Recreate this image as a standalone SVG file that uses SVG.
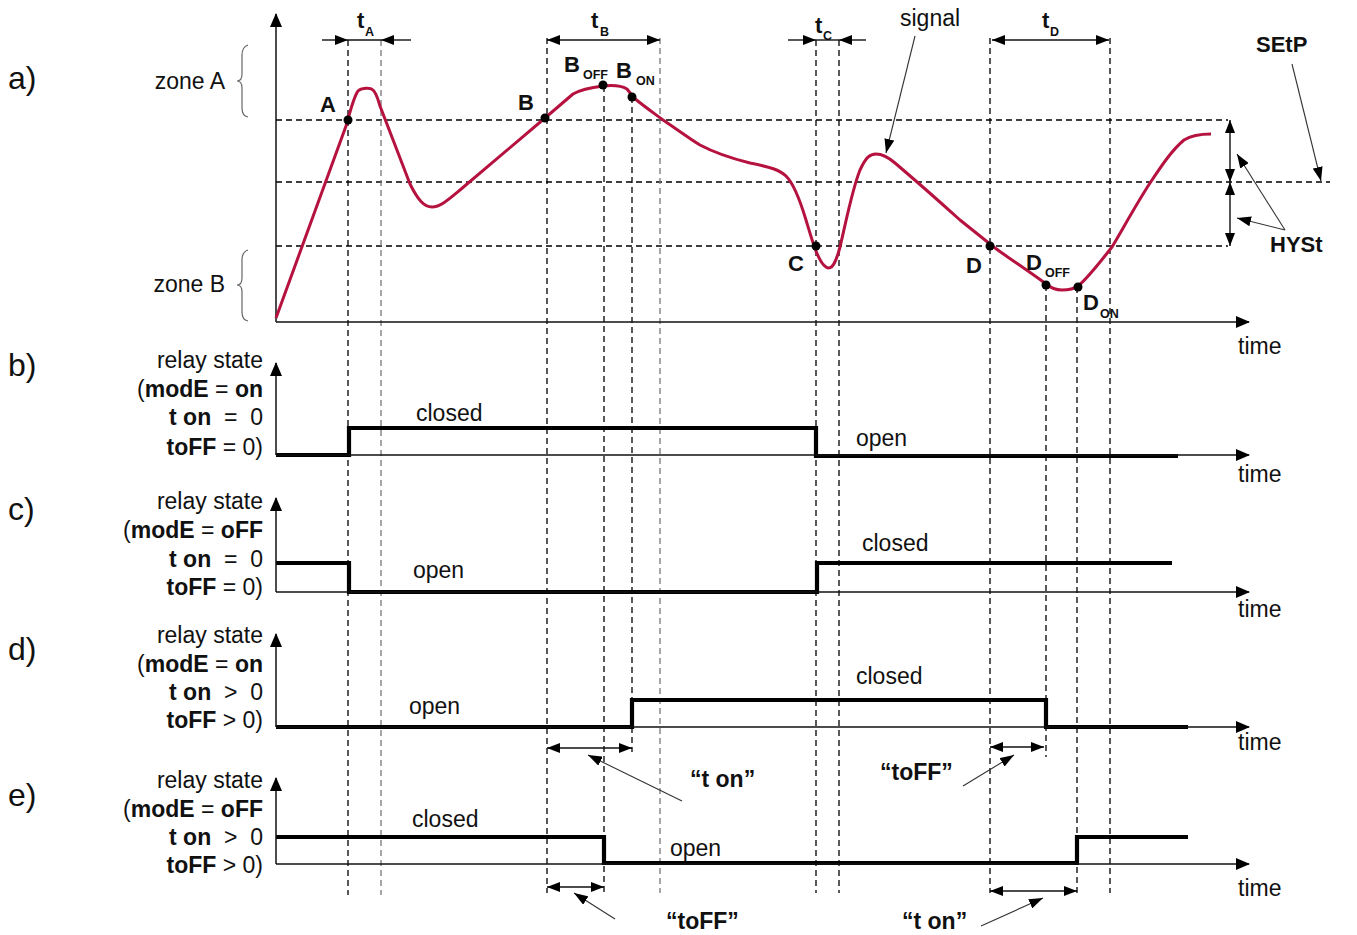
<svg xmlns="http://www.w3.org/2000/svg" width="1357" height="935" viewBox="0 0 1357 935">
<style>
text{font-family:"Liberation Sans",Arial,sans-serif;fill:#111}
.r{font-size:23px}
.b{font-weight:bold}
.lab{font-size:22px;font-weight:bold}
.q{font-size:23px;font-weight:bold}
.sub{font-size:12.5px;font-weight:bold}
.big{font-size:32px}
.dash{stroke:#000;stroke-width:1.3;stroke-dasharray:6 4;fill:none}
.dg{stroke:#777;stroke-width:1.3;stroke-dasharray:6 4;fill:none}
.ax{stroke:#111;stroke-width:1.5;fill:none}
.sig{stroke:#000;stroke-width:4.2;fill:none;stroke-linejoin:miter}
.ptr{stroke:#333;stroke-width:1.1;fill:none}
.thin{stroke:#111;stroke-width:1.4;fill:none}
.brace{stroke:#666;stroke-width:1.2;fill:none}
.dot{fill:#000}
</style>
<defs>
<marker id="ah" viewBox="0 0 14 12" refX="13" refY="6" markerWidth="14" markerHeight="12" markerUnits="userSpaceOnUse" orient="auto-start-reverse"><path d="M0,0 L14,6 L0,12 z" fill="#000"/></marker>
<marker id="am" viewBox="0 0 13 10" refX="13" refY="5" markerWidth="13" markerHeight="10" markerUnits="userSpaceOnUse" orient="auto-start-reverse"><path d="M0,0 L13,5 L0,10 z" fill="#000"/></marker>
<marker id="ap" viewBox="0 0 14 10" refX="14" refY="5" markerWidth="14" markerHeight="10" markerUnits="userSpaceOnUse" orient="auto-start-reverse"><path d="M0,0 L14,5 L0,10 z" fill="#000"/></marker>
</defs>
<rect width="1357" height="935" fill="#fff"/>

<g id="guides">
<line class="dash" x1="276" y1="120" x2="1228" y2="120"/>
<line class="dash" x1="276" y1="182" x2="1330" y2="182"/>
<line class="dash" x1="276" y1="246" x2="1228" y2="246"/>
<line class="dash" x1="348" y1="40" x2="348" y2="895"/>
<line class="dg" x1="381" y1="40" x2="381" y2="895"/>
<line class="dash" x1="547" y1="38" x2="547" y2="893"/>
<line class="dash" x1="604" y1="86" x2="604" y2="893"/>
<line class="dash" x1="632" y1="97" x2="632" y2="752"/>
<line class="dg" x1="660" y1="38" x2="660" y2="893"/>
<line class="dash" x1="816" y1="40" x2="816" y2="893"/>
<line class="dash" x1="839" y1="40" x2="839" y2="893"/>
<line class="dash" x1="990" y1="38" x2="990" y2="893"/>
<line class="dash" x1="1046" y1="285" x2="1046" y2="757"/>
<line class="dash" x1="1077" y1="287" x2="1077" y2="893"/>
<line class="dash" x1="1110" y1="38" x2="1110" y2="893"/>
</g>

<g id="panel-a">
<text class="big" x="8" y="89">a)</text>
<text class="r" x="225" y="89" text-anchor="end">zone A</text>
<text class="r" x="225" y="292" text-anchor="end">zone B</text>
<path class="brace" d="M248,45 Q242,47 242,55 L242,74 Q242,81 237,81 Q242,81 242,88 L242,108 Q242,116 248,117"/>
<path class="brace" d="M248,250 Q242,252 242,260 L242,278 Q242,285 237,285 Q242,285 242,292 L242,312 Q242,320 248,321"/>
<line class="ax" x1="276" y1="322" x2="276" y2="14" marker-end="url(#ah)"/>
<line class="ax" x1="276" y1="322" x2="1249" y2="322" marker-end="url(#ah)"/>
<text class="r" x="1238" y="354">time</text>
<path d="M276,318 L346,126 C350,112 354,96 358,91 C361,88 370,87 373,90 C377,94 378,100 380,106 L410,184 C418,200 424,207 432,207 C440,207 448,200 460,190 L545,118 L573,94 C580,90 595,87 603,86 C612,85 622,86 627,89 L634,98 C645,107 655,114 663,120 C678,130 690,139 700,145 C715,153 730,158 750,163 C770,167 780,170 786,176 C794,184 800,200 806,220 C812,240 818,262 826,267 C832,271 836,262 840,247 C846,222 852,190 860,170 C866,157 870,154 876,154 C882,154 888,157 895,163 C915,180 940,202 960,220 C975,232 985,240 995,248 C1010,259 1030,272 1046,284 C1052,289 1056,290 1062,290 C1070,290 1074,289 1078,286 C1088,278 1100,262 1112,247 C1125,225 1137,203 1150,183 C1162,165 1172,150 1184,140 C1192,135 1200,134 1211,134" fill="none" stroke="#b5123f" stroke-width="3" stroke-linejoin="round"/>
<circle class="dot" cx="348" cy="120" r="4.5"/>
<circle class="dot" cx="545" cy="118" r="4.5"/>
<circle class="dot" cx="603" cy="85" r="4.5"/>
<circle class="dot" cx="632" cy="97" r="4.5"/>
<circle class="dot" cx="816" cy="246" r="4.5"/>
<circle class="dot" cx="990" cy="246" r="4.5"/>
<circle class="dot" cx="1046" cy="285" r="4.5"/>
<circle class="dot" cx="1078" cy="287" r="4.5"/>
<text class="lab" x="320" y="112">A</text>
<text class="lab" x="518" y="110">B</text>
<text class="lab" x="564" y="72">B</text><text class="sub" x="583" y="79">OFF</text>
<text class="lab" x="616" y="78">B</text><text class="sub" x="636" y="85">ON</text>
<text class="lab" x="788" y="271">C</text>
<text class="lab" x="966" y="273">D</text>
<text class="lab" x="1026" y="270">D</text><text class="sub" x="1045" y="277">OFF</text>
<text class="lab" x="1083" y="310">D</text><text class="sub" x="1100" y="318">ON</text>
<text class="lab" x="357" y="28">t</text><text class="sub" x="365" y="36">A</text>
<text class="lab" x="591" y="28">t</text><text class="sub" x="600" y="36">B</text>
<text class="lab" x="815" y="33">t</text><text class="sub" x="823" y="40">C</text>
<text class="lab" x="1042" y="28">t</text><text class="sub" x="1050" y="36">D</text>
<text class="r" x="900" y="26">signal</text>
<text class="lab" x="1256" y="52">SEtP</text>
<text class="lab" x="1270" y="252">HYSt</text>
</g>

<g id="connectors">
<line class="thin" x1="322" y1="40" x2="348" y2="40" marker-end="url(#am)"/>
<line class="thin" x1="348" y1="40" x2="381" y2="40"/>
<line class="thin" x1="411" y1="40" x2="381" y2="40" marker-end="url(#am)"/>
<line class="thin" x1="547" y1="40" x2="660" y2="40" marker-start="url(#am)" marker-end="url(#am)"/>
<line class="thin" x1="788" y1="40" x2="816" y2="40" marker-end="url(#am)"/>
<line class="thin" x1="816" y1="40" x2="839" y2="40"/>
<line class="thin" x1="866" y1="40" x2="839" y2="40" marker-end="url(#am)"/>
<line class="thin" x1="992" y1="40" x2="1109" y2="40" marker-start="url(#am)" marker-end="url(#am)"/>
<line class="thin" x1="1230" y1="120" x2="1230" y2="182" marker-start="url(#am)" marker-end="url(#am)"/>
<line class="thin" x1="1230" y1="182" x2="1230" y2="246" marker-start="url(#am)" marker-end="url(#am)"/>
<line class="ptr" x1="915" y1="36" x2="886" y2="153" marker-end="url(#ap)"/>
<line class="ptr" x1="1292" y1="64" x2="1321" y2="181" marker-end="url(#ap)"/>
<line class="ptr" x1="1285" y1="230" x2="1237" y2="154" marker-end="url(#ap)"/>
<line class="ptr" x1="1285" y1="230" x2="1237" y2="218" marker-end="url(#ap)"/>
<line class="thin" x1="547" y1="748" x2="632" y2="748" marker-start="url(#am)" marker-end="url(#am)"/>
<line class="thin" x1="990" y1="747" x2="1044" y2="747" marker-start="url(#am)" marker-end="url(#am)"/>
<line class="thin" x1="547" y1="887" x2="604" y2="887" marker-start="url(#am)" marker-end="url(#am)"/>
<line class="thin" x1="990" y1="891" x2="1077" y2="891" marker-start="url(#am)" marker-end="url(#am)"/>
<line class="ptr" x1="682" y1="801" x2="588" y2="755" marker-end="url(#ap)"/>
<line class="ptr" x1="963" y1="786" x2="1014" y2="755" marker-end="url(#ap)"/>
<line class="ptr" x1="615" y1="919" x2="574" y2="893" marker-end="url(#ap)"/>
<line class="ptr" x1="981" y1="926" x2="1043" y2="898" marker-end="url(#ap)"/>
</g>

<g id="panel-b">
<text class="big" x="8" y="376">b)</text>
<g class="r" text-anchor="end">
<text x="263" y="368">relay state</text>
<text x="263" y="397">(<tspan class="b">modE</tspan> = <tspan class="b">on</tspan></text>
<text x="263" y="425" xml:space="preserve"><tspan class="b">t on</tspan>  =  0</text>
<text x="263" y="455"><tspan class="b">toFF</tspan> = 0)</text>
</g>
<path class="sig" d="M276,455 H349 V428 H816 V456 H1178"/>
<line class="ax" x1="276" y1="455" x2="276" y2="363" marker-end="url(#ah)"/>
<line class="ax" x1="276" y1="455" x2="1249" y2="455" marker-end="url(#ah)"/>
<text class="r" x="416" y="421">closed</text>
<text class="r" x="856" y="446">open</text>
<text class="r" x="1238" y="482">time</text>
</g>

<g id="panel-c">
<text class="big" x="8" y="520">c)</text>
<g class="r" text-anchor="end">
<text x="263" y="509">relay state</text>
<text x="263" y="538">(<tspan class="b">modE</tspan> = <tspan class="b">oFF</tspan></text>
<text x="263" y="567" xml:space="preserve"><tspan class="b">t on</tspan>  =  0</text>
<text x="263" y="595"><tspan class="b">toFF</tspan> = 0)</text>
</g>
<path class="sig" d="M276,563 H349 V592 H817 V563 H1172"/>
<line class="ax" x1="276" y1="592" x2="276" y2="498" marker-end="url(#ah)"/>
<line class="ax" x1="276" y1="592" x2="1249" y2="592" marker-end="url(#ah)"/>
<text class="r" x="413" y="578">open</text>
<text class="r" x="862" y="551">closed</text>
<text class="r" x="1238" y="617">time</text>
</g>

<g id="panel-d">
<text class="big" x="8" y="660">d)</text>
<g class="r" text-anchor="end">
<text x="263" y="643">relay state</text>
<text x="263" y="672">(<tspan class="b">modE</tspan> = <tspan class="b">on</tspan></text>
<text x="263" y="700" xml:space="preserve"><tspan class="b">t on</tspan>  &gt;  0</text>
<text x="263" y="728"><tspan class="b">toFF</tspan> &gt; 0)</text>
</g>
<path class="sig" d="M276,727 H632 V700 H1046 V727 H1188"/>
<line class="ax" x1="276" y1="727" x2="276" y2="634" marker-end="url(#ah)"/>
<line class="ax" x1="276" y1="727" x2="1249" y2="727" marker-end="url(#ah)"/>
<text class="r" x="409" y="714">open</text>
<text class="r" x="856" y="684">closed</text>
<text class="r" x="1238" y="750">time</text>
<text class="q" x="690" y="787">“t on”</text>
<text class="q" x="880" y="780">“toFF”</text>
</g>

<g id="panel-e">
<text class="big" x="8" y="806">e)</text>
<g class="r" text-anchor="end">
<text x="263" y="788">relay state</text>
<text x="263" y="817">(<tspan class="b">modE</tspan> = <tspan class="b">oFF</tspan></text>
<text x="263" y="845" xml:space="preserve"><tspan class="b">t on</tspan>  &gt;  0</text>
<text x="263" y="873"><tspan class="b">toFF</tspan> &gt; 0)</text>
</g>
<path class="sig" d="M276,837 H604 V863 H1077 V837 H1188"/>
<line class="ax" x1="276" y1="864" x2="276" y2="778" marker-end="url(#ah)"/>
<line class="ax" x1="276" y1="864" x2="1249" y2="864" marker-end="url(#ah)"/>
<text class="r" x="412" y="827">closed</text>
<text class="r" x="670" y="856">open</text>
<text class="r" x="1238" y="896">time</text>
<text class="q" x="666" y="929">“toFF”</text>
<text class="q" x="902" y="929">“t on”</text>
</g>
</svg>
